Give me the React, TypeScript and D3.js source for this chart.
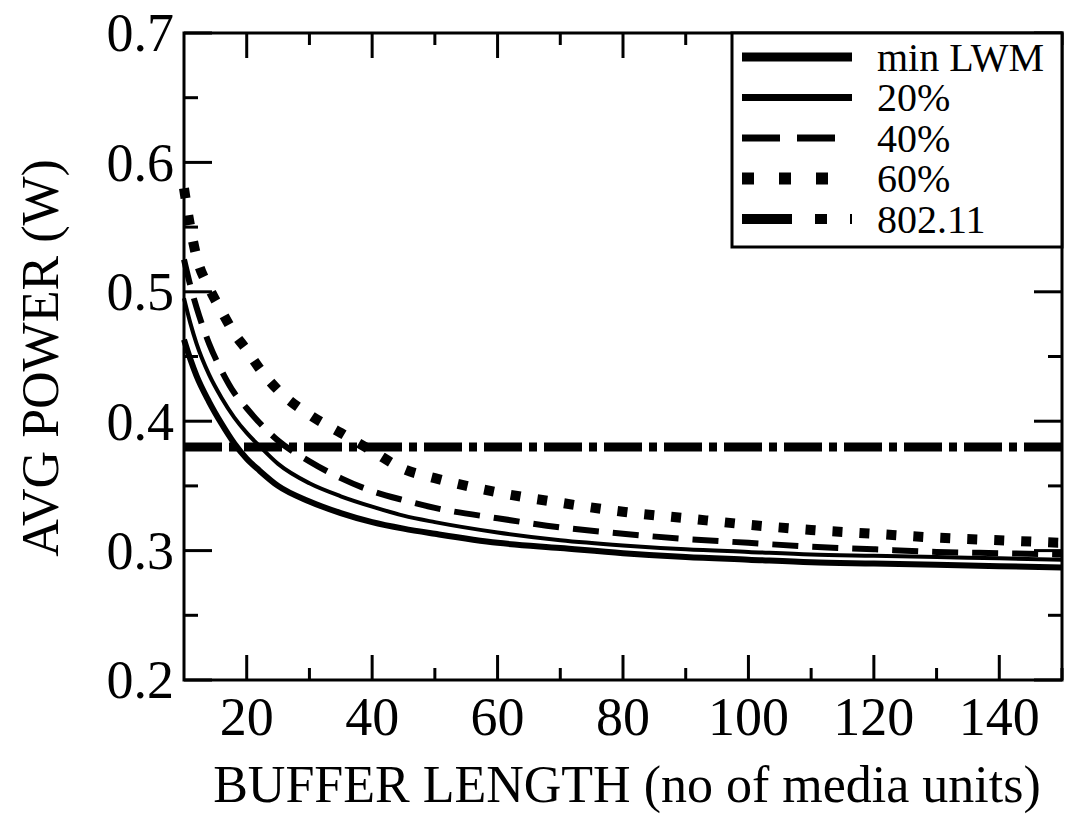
import React, { useRef, useEffect } from "react";
import * as d3 from "d3";

const bufferLengths = [10, 11, 12, 14, 16, 18, 20, 22, 25, 30, 35, 40, 45, 50, 60, 70, 80, 90, 100, 110, 120, 130, 140, 150];

const minLwm = [0.463, 0.448, 0.435, 0.415, 0.398, 0.383, 0.371, 0.362, 0.35, 0.338, 0.329, 0.322, 0.317, 0.313, 0.306, 0.302, 0.298, 0.295, 0.293, 0.291, 0.29, 0.289, 0.288, 0.287];
const pct20 = [0.495, 0.476, 0.46, 0.436, 0.418, 0.403, 0.391, 0.381, 0.367, 0.352, 0.342, 0.334, 0.327, 0.322, 0.314, 0.308, 0.304, 0.301, 0.299, 0.297, 0.296, 0.295, 0.294, 0.293];
const pct40 = [0.525, 0.505, 0.488, 0.46, 0.439, 0.422, 0.41, 0.399, 0.385, 0.369, 0.356, 0.346, 0.339, 0.333, 0.325, 0.318, 0.313, 0.309, 0.306, 0.303, 0.301, 0.299, 0.298, 0.297];
const pct60 = [0.58, 0.55, 0.527, 0.503, 0.485, 0.468, 0.455, 0.441, 0.424, 0.405, 0.391, 0.377, 0.363, 0.356, 0.345, 0.337, 0.33, 0.325, 0.32, 0.316, 0.313, 0.31, 0.308, 0.306];
const ieee80211 = [0.38, 0.38, 0.38, 0.38, 0.38, 0.38, 0.38, 0.38, 0.38, 0.38, 0.38, 0.38, 0.38, 0.38, 0.38, 0.38, 0.38, 0.38, 0.38, 0.38, 0.38, 0.38, 0.38, 0.38];

const seriesNames = ["min LWM", "20%", "40%", "60%", "802.11"];

const xMajorTicks = [20, 40, 60, 80, 100, 120, 140];
const xMinorTicks = [30, 50, 70, 90, 110, 130, 150];
const yMajorTicks = [0.2, 0.3, 0.4, 0.5, 0.6, 0.7];
const yMinorTicks = [0.25, 0.35, 0.45, 0.55, 0.65];

const FONT = "Liberation Serif, DejaVu Serif, serif";

export default function App() {
  const svgRef = useRef<SVGSVGElement>(null);

  useEffect(() => {
    if (!svgRef.current) return;
    const width = 1068;
    const height = 814;
    const left = 184, right = 1062, top = 33, bottom = 680;

    d3.select(svgRef.current).selectAll("*").remove();
    const svg = d3
      .select(svgRef.current)
      .attr("width", width)
      .attr("height", height)
      .style("font-family", FONT);

    const x = d3.scaleLinear().domain([10, 150]).range([left, right]);
    const y = d3.scaleLinear().domain([0.2, 0.7]).range([bottom, top]);

    const series = [
      { name: seriesNames[0], values: minLwm, width: 6, dash: null, legendDash: null, legendWidth: 9 },
      { name: seriesNames[1], values: pct20, width: 4, dash: null, legendDash: null, legendWidth: 7 },
      { name: seriesNames[2], values: pct40, width: 6, dash: "26,14", legendDash: "38,17", legendWidth: 7 },
      { name: seriesNames[3], values: pct60, width: 10, dash: "10,17", legendDash: "12,25", legendWidth: 12 },
      { name: seriesNames[4], values: ieee80211, width: 9, dash: "38,7,8,7", legendDash: "50,23,12,23", legendWidth: 10 },
    ];

    const line = d3
      .line<number>()
      .x((_, i) => x(bufferLengths[i]))
      .y((d) => y(d))
      .curve(d3.curveMonotoneX);

    // curves
    series.forEach((s) => {
      svg
        .append("path")
        .attr("d", line(s.values) || "")
        .attr("fill", "none")
        .attr("stroke", "#000")
        .attr("stroke-width", s.width)
        .attr("stroke-dasharray", s.dash)
        .attr("stroke-linecap", "butt");
    });

    // frame
    svg
      .append("rect")
      .attr("x", left)
      .attr("y", top)
      .attr("width", right - left)
      .attr("height", bottom - top)
      .attr("fill", "none")
      .attr("stroke", "#000")
      .attr("stroke-width", 3);

    const ticks = svg.append("g").attr("stroke", "#000").attr("stroke-width", 3);
    const addX = (vals: number[], len: number) => {
      vals.forEach((v) => {
        ticks.append("line").attr("x1", x(v)).attr("x2", x(v)).attr("y1", bottom).attr("y2", bottom - len);
        ticks.append("line").attr("x1", x(v)).attr("x2", x(v)).attr("y1", top).attr("y2", top + len);
      });
    };
    const addY = (vals: number[], len: number) => {
      vals.forEach((v) => {
        ticks.append("line").attr("y1", y(v)).attr("y2", y(v)).attr("x1", left).attr("x2", left + len);
        ticks.append("line").attr("y1", y(v)).attr("y2", y(v)).attr("x1", right).attr("x2", right - len);
      });
    };
    addX(xMajorTicks, 25);
    addX(xMinorTicks, 12);
    addY(yMajorTicks, 28);
    addY(yMinorTicks, 14);

    // tick labels
    svg
      .append("g")
      .selectAll("text")
      .data(xMajorTicks)
      .join("text")
      .attr("x", (d) => x(d))
      .attr("y", 735)
      .attr("text-anchor", "middle")
      .attr("font-size", 54)
      .text((d) => d);

    svg
      .append("g")
      .selectAll("text")
      .data(yMajorTicks)
      .join("text")
      .attr("x", 174)
      .attr("y", (d) => y(d))
      .attr("dy", "0.34em")
      .attr("text-anchor", "end")
      .attr("font-size", 54)
      .text((d) => d3.format(".1f")(d));

    // axis titles
    svg
      .append("text")
      .attr("x", (left + right) / 2 + 4)
      .attr("y", 802)
      .attr("text-anchor", "middle")
      .attr("font-size", 52)
      .text("BUFFER LENGTH (no of media units)");

    svg
      .append("text")
      .attr("transform", "translate(58,358) rotate(-90)")
      .attr("text-anchor", "middle")
      .attr("font-size", 52)
      .text("AVG POWER (W)");

    // legend
    const legend = svg.append("g");
    legend
      .append("rect")
      .attr("x", 732)
      .attr("y", top)
      .attr("width", right - 732)
      .attr("height", 247 - top)
      .attr("fill", "#fff")
      .attr("stroke", "#000")
      .attr("stroke-width", 3);

    series.forEach((s, i) => {
      const cy = 57 + i * 40.5;
      legend
        .append("line")
        .attr("x1", 742)
        .attr("x2", 852)
        .attr("y1", cy)
        .attr("y2", cy)
        .attr("stroke", "#000")
        .attr("stroke-width", s.legendWidth)
        .attr("stroke-dasharray", s.legendDash);
      legend
        .append("text")
        .attr("x", 877)
        .attr("y", cy)
        .attr("dy", "0.34em")
        .attr("font-size", 40)
        .text(s.name);
    });
  }, []);

  return <svg ref={svgRef} style={{ position: "absolute", left: 0, top: 0 }}></svg>;
}
